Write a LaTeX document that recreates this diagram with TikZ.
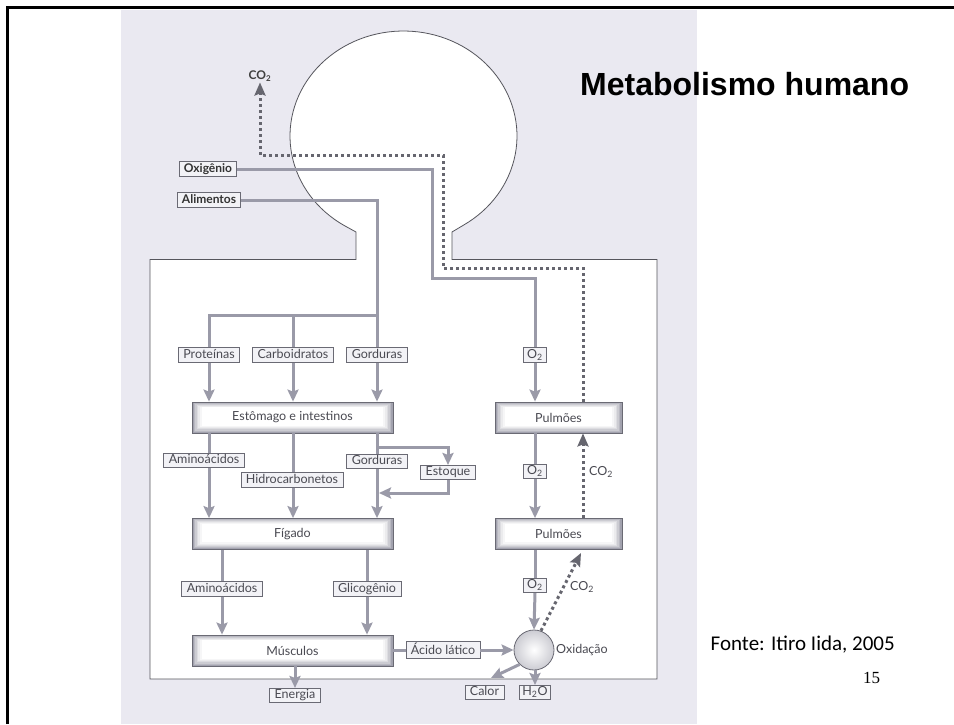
\documentclass[tikz,border=0pt]{standalone}
\usepackage{fontspec}
\usetikzlibrary{arrows.meta,calc}
\newfontfamily\lblfont{Lato}
\newfontfamily\ttlfont{Liberation Sans}
\newfontfamily\srcfont{Carlito}
\newfontfamily\numfont{Liberation Serif}
\definecolor{scanbg}{HTML}{EAE9F1}
\definecolor{lineGrey}{HTML}{9A9AA8}
\definecolor{dotGrey}{HTML}{66666F}
\definecolor{boxEdge}{HTML}{6A6A74}
\definecolor{boxGrey}{HTML}{A2A2AE}
\definecolor{lblFill}{HTML}{F2F2F6}
\definecolor{txtGrey}{HTML}{4A4A52}
\definecolor{outlineC}{HTML}{55555C}
\begin{document}
\begin{tikzpicture}[x=1pt,y=-1pt,
  lbl/.style={draw=boxEdge, line width=0.7pt, fill=lblFill, text=txtGrey,
    font=\lblfont\fontsize{12.5}{13}\selectfont, inner xsep=5pt, inner ysep=1.5pt,
    text height=8.8pt, text depth=2.6pt},
  lblb/.style={lbl, text=black!80, inner xsep=4.5pt, font=\lblfont\bfseries\fontsize{12}{13}\selectfont},
  plain/.style={text=txtGrey, font=\lblfont\fontsize{12.5}{13}\selectfont, inner sep=1pt,
    text height=8.5pt, text depth=2.5pt},
  organ/.style={draw=boxEdge, line width=0.8pt, fill=boxGrey, minimum width=201pt,
    minimum height=31pt, inner sep=0pt, text=txtGrey,
    font=\lblfont\fontsize{12.5}{13}\selectfont,
    path picture={
      \foreach \i/\c in {1/25,2/45,3/63,4/78,5/90,6/100}{
        \fill[white!\c!boxGrey]
          ([shift={(\i*1.6pt,\i*1.2pt)}]path picture bounding box.south west) rectangle
          ([shift={(-\i*1.6pt,-\i*0.9pt)}]path picture bounding box.north east);
      }
    }},
  conn/.style={draw=lineGrey, line width=3pt},
  arr/.style={conn, -{Stealth[length=12pt,width=11pt,inset=2pt]}},
  dotl/.style={draw=dotGrey, line width=3pt, dash pattern=on 3pt off 3pt},
  darr/.style={dotl, -{Stealth[length=13pt,width=11pt,inset=2pt]}}
]
\useasboundingbox (0,0) rectangle (954,724);
% scanned page background
\fill[scanbg] (121,10) rectangle (697,724);
% slide frame
\draw[line width=3pt, black] (7.5,724) -- (7.5,7) -- (954,7);
% body outline (head + trunk)
\filldraw[fill=white, draw=outlineC, line width=0.8pt]
  (150,259.5) -- (356,259.5) -- (356,232) -- (344,225.4)
  -- plot[domain=0:1, samples=100, variable=\u]
     ({403.5+113.5*cos(238.4-296.8*\u)},{136-105*sin(238.4-296.8*\u)})
  -- (452,232) -- (452,259.5) -- (657,259.5) -- (657,679) -- (150,679) -- cycle;

% ---------- nodes ----------
\node[font=\lblfont\bfseries\fontsize{12}{13}\selectfont, text=black!75, inner sep=1pt] (co2top) at (260,76) {CO\textsubscript{2}};
\node[lblb] (oxi) at (208,169) {Oxigênio};
\node[lblb] (alim) at (209,200) {Alimentos};

\node[lbl] (prot) at (209,355) {Proteínas};
\node[lbl] (carb) at (293,355) {Carboidratos};
\node[lbl] (gord) at (377,355) {Gorduras};
\node[organ] (est) at (292.5,417.5) {Estômago e intestinos};
\node[lbl] (amino1) at (204,460.5) {Aminoácidos};
\node[lbl] (hidro) at (292,480) {Hidrocarbonetos};
\node[lbl] (gord2) at (377,461.5) {Gorduras};
\node[lbl] (estoq) at (448,472.5) {Estoque};
\node[organ] (fig) at (292.5,534) {Fígado};
\node[lbl] (amino2) at (222,589) {Aminoácidos};
\node[lbl] (glic) at (367,589) {Glicogênio};
\node[organ] (musc) at (292.5,650.5) {Músculos};
\node[lbl] (ener) at (295,695.5) {Energia};
\node[lbl, text height=11pt] (acido) at (443,650) {Ácido lático};

\node[organ, minimum width=127pt] (pulm1) at (558.5,417.5) {Pulmões};
\node[organ, minimum width=127pt] (pulm2) at (558.5,534) {Pulmões};
\node[lbl, inner xsep=4pt] (o2a) at (535,355) {O\textsubscript{2}};
\node[lbl, inner xsep=4pt] (o2b) at (535,471.5) {O\textsubscript{2}};
\node[lbl, inner xsep=4pt] (o2c) at (535,585.5) {O\textsubscript{2}};
\node[circle, draw=boxEdge, line width=0.8pt, minimum size=40pt, inner sep=0pt,
      inner color=white, outer color=boxGrey!55] (oxid) at (534,650) {};
\node[plain, anchor=west] (oxlbl) at (555,650) {Oxidação};
\node[lbl] (calor) at (484.5,692.5) {Calor};
\node[lbl, inner xsep=3pt] (h2o) at (535,692.5) {H\textsubscript{2}O};
\node[plain] (co2b) at (601,472) {CO\textsubscript{2}};
\node[plain] (co2c) at (582,587) {CO\textsubscript{2}};

\node[font=\ttlfont\bfseries\fontsize{32}{36}\selectfont, anchor=base west, inner sep=0pt] (title) at (580,95) {Metabolismo humano};
\node[font=\srcfont\fontsize{21}{24}\selectfont, anchor=base west, inner sep=0pt] (fonte) at (710.5,650.5) {Fonte: Itiro Iida, 2005};
\node[font=\numfont\fontsize{17}{20}\selectfont, anchor=base west, inner sep=0pt] (pnum) at (863,683) {15};

% ---------- junction coordinates ----------
\coordinate (oxA) at (432,278);
\coordinate (alJ) at (377,315);
\coordinate (brG) at (377,447);
\coordinate (retG) at (379,493);
\coordinate (co2v) at (583,0);
\coordinate (d1) at (443,268);
\coordinate (d2) at (260,155);
\coordinate (calTip) at (491,678);
\coordinate (co2tip) at (581,553);

% ---------- connectors ----------
% oxygen intake
\draw[conn] (oxi.east) -| (oxA) -| (o2a.north);
\draw[arr] (o2a.south) -- (pulm1.north -| o2a);
\draw[conn] (pulm1.south -| o2b) -- (o2b.north);
\draw[arr] (o2b.south) -- (pulm2.north -| o2b);
\draw[conn] (pulm2.south -| o2c) -- (o2c.north);
\draw[arr] (o2c.south) -- (oxid.north);
% food intake
\draw[conn] (alim.east) -| (gord.north);
\draw[conn] (prot.north) |- (alJ);
\draw[conn] (carb.north) -- (carb.north |- alJ);
\draw[arr] (prot.south) -- (prot.south |- est.north);
\draw[arr] (carb.south) -- (carb.south |- est.north);
\draw[arr] (gord.south) -- (gord.south |- est.north);
% stomach -> liver
\draw[conn] (est.south -| prot) -- (amino1.north -| prot);
\draw[arr] (amino1.south -| prot) -- (fig.north -| prot);
\draw[conn] (est.south -| carb) -- (hidro.north -| carb);
\draw[arr] (hidro.south -| carb) -- (fig.north -| carb);
\draw[conn] (est.south -| gord) -- (gord2.north);
\draw[arr] (gord2.south) -- (fig.north -| gord2);
\draw[arr] (brG) -| (estoq.north);
\draw[arr] (estoq.south) |- (retG);
% liver -> muscles
\draw[conn] (fig.south -| amino2) -- (amino2.north);
\draw[arr] (amino2.south) -- (musc.north -| amino2);
\draw[conn] (fig.south -| glic) -- (glic.north);
\draw[arr] (glic.south) -- (musc.north -| glic);
\draw[arr] (musc.south -| ener) -- (ener.north);
\draw[conn] (musc.east |- acido) -- (acido.west);
\draw[arr] (acido.east) -- (oxid.west);
% oxidation products
\draw[arr] (oxid.south west) -- (calTip);
\draw[arr] (oxid.south -| h2o) -- (h2o.north);
% CO2 exhaust (dotted)
\draw[darr] (oxid.70) -- (co2tip);
\draw[darr] (pulm2.north -| co2v) -- (pulm1.south -| co2v);
\draw[darr] (pulm1.north -| co2v) |- (d1) |- (d2) -- (co2top.south);
\end{tikzpicture}
\end{document}
